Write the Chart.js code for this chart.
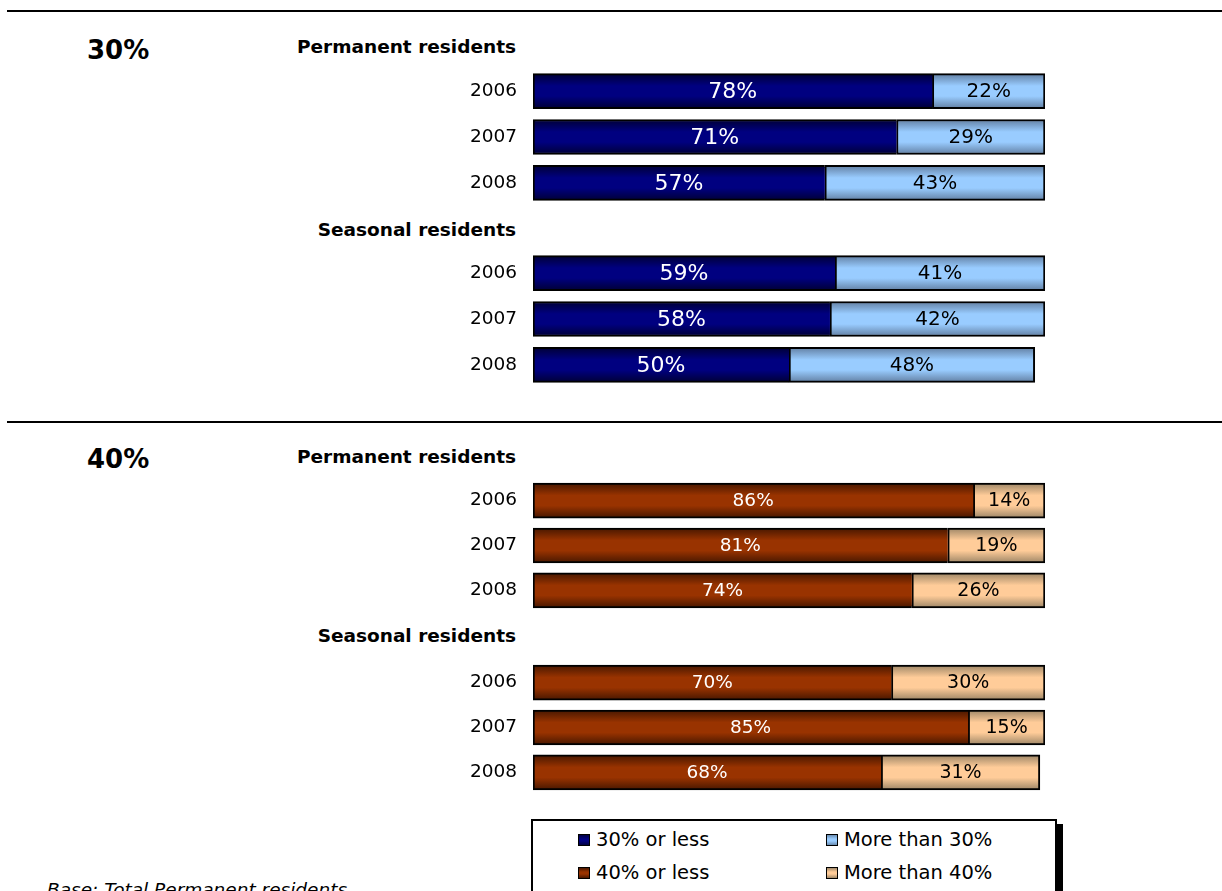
<!DOCTYPE html>
<html>
<head>
<meta charset="utf-8">
<script src="https://cdn.jsdelivr.net/npm/chart.js@4.4.0/dist/chart.umd.min.js"></script>
<style>
  html, body { margin:0; padding:0; background:#fff; }
  body { width:1222px; height:891px; position:relative; overflow:hidden;
         font-family: "DejaVu Sans", sans-serif; color:#000; }
  .abs { position:absolute; white-space:nowrap; line-height:24px; }
  .rule { position:absolute; left:7px; width:1215px; height:2px; background:#000; }
  .big { font-weight:bold; font-size:26px; line-height:30px; }
  .hdr { font-weight:bold; font-size:18.5px; left:0; width:516px; text-align:right; }
  canvas { display:block; }
  .cw { position:absolute; left:400px; width:660px; }
  #legend { position:absolute; left:531px; top:819px; width:522px; height:80px;
            border:2px solid #000; background:#fff; box-shadow:6px 5px 0 #000; }
  .li { position:absolute; font-size:19.5px; line-height:22px; }
  .mk { display:inline-block; width:10px; height:10px; border:1px solid #000; margin-right:6px; vertical-align:0px; }
  #foot { left:47px; top:880px; font-style:italic; font-size:18.5px; line-height:20px; }
</style>
</head>
<body>
<div class="rule" style="top:10px"></div>
<div class="rule" style="top:421px"></div>

<div class="abs big" style="left:87px; top:35px;">30%</div>
<div class="abs hdr" style="top:35px;">Permanent residents</div>
<div class="abs hdr" style="top:218px;">Seasonal residents</div>
<div class="cw" style="top:68px; height:138px;"><canvas id="c1"></canvas></div>
<div class="cw" style="top:250px; height:138px;"><canvas id="c2"></canvas></div>

<div class="abs big" style="left:87px; top:444px;">40%</div>
<div class="abs hdr" style="top:445px;">Permanent residents</div>
<div class="abs hdr" style="top:624px;">Seasonal residents</div>
<div class="cw" style="top:478px; height:135px;"><canvas id="c3"></canvas></div>
<div class="cw" style="top:660px; height:135px;"><canvas id="c4"></canvas></div>

<div id="legend">
  <div class="li" style="left:45px; top:8px;"><span class="mk" style="background:linear-gradient(#000040,#000080 40%,#000080 60%,#000040)"></span>30% or less</div>
  <div class="li" style="left:293px; top:8px;"><span class="mk" style="background:linear-gradient(#6a8cb0,#99ccff 40%,#99ccff 60%,#6a8cb0)"></span>More than 30%</div>
  <div class="li" style="left:45px; top:41px;"><span class="mk" style="background:linear-gradient(#4a1800,#993300 40%,#993300 60%,#4a1800)"></span>40% or less</div>
  <div class="li" style="left:293px; top:41px;"><span class="mk" style="background:linear-gradient(#a08868,#ffcc99 40%,#ffcc99 60%,#a08868)"></span>More than 40%</div>
</div>
<div class="abs" id="foot">Base: Total Permanent residents</div>

<script>
// ---- data ----
const years = ["2006", "2007", "2008"];
const perm30Low  = [78, 71, 57];
const perm30High = [22, 29, 43];
const seas30Low  = [59, 58, 50];
const seas30High = [41, 42, 48];
const perm40Low  = [86, 81, 74];
const perm40High = [14, 19, 26];
const seas40Low  = [70, 85, 68];
const seas40High = [30, 15, 31];

const FONT = '"DejaVu Sans", sans-serif';

const palettes = {
  dark30:  {edge:'#000038', mid:'#000080', text:'#ffffff'},
  light30: {edge:'#6482a6', mid:'#99ccff', text:'#000000'},
  dark40:  {edge:'#4a1800', mid:'#993300', text:'#ffffff'},
  light40: {edge:'#a08868', mid:'#ffcc99', text:'#000000'}
};

function gradFill(pal) {
  return function(ctx) {
    const chart = ctx.chart;
    if (!chart.chartArea || ctx.dataIndex === undefined) return pal.mid;
    const y = chart.scales.y.getPixelForValue(ctx.dataIndex);
    const g = chart.ctx.createLinearGradient(0, y - 17, 0, y + 17);
    g.addColorStop(0, pal.edge);
    g.addColorStop(0.35, pal.mid);
    g.addColorStop(0.65, pal.mid);
    g.addColorStop(1, pal.edge);
    return g;
  };
}

const valueLabels = {
  id: 'valueLabels',
  afterDatasetsDraw(chart) {
    const c = chart.ctx;
    chart.data.datasets.forEach((ds, di) => {
      const meta = chart.getDatasetMeta(di);
      meta.data.forEach((el, i) => {
        const v = ds.data[i];
        const x = (el.x + el.base) / 2;
        c.save();
        c.fillStyle = ds.labelColor;
        c.font = ds.labelSize + 'px ' + FONT;
        c.textAlign = 'center';
        c.textBaseline = 'middle';
        c.fillText(v + '%', x, el.y + 1);
        c.restore();
      });
    });
  }
};

function makeChart(id, low, high, darkPal, lightPal, darkSize, lightSize) {
  new Chart(document.getElementById(id), {
    type: 'bar',
    data: {
      labels: years,
      datasets: [
        { data: low, backgroundColor: gradFill(darkPal), borderColor: '#000',
          borderWidth: {top:2, bottom:2, left:2, right:0}, borderSkipped: false,
          labelColor: darkPal.text, labelSize: darkSize },
        { data: high, backgroundColor: gradFill(lightPal), borderColor: '#000',
          borderWidth: {top:2, bottom:2, left:2, right:2}, borderSkipped: false,
          labelColor: lightPal.text, labelSize: lightSize }
      ]
    },
    options: {
      indexAxis: 'y',
      responsive: true,
      maintainAspectRatio: false,
      animation: false,
      events: [],
      datasets: { bar: { barThickness: 35 } },
      layout: { padding: { left: 0, right: 15, top: 0, bottom: 0 } },
      plugins: { legend: { display: false }, tooltip: { enabled: false } },
      scales: {
        x: { stacked: true, min: 0, max: 100, display: false },
        y: {
          stacked: true,
          grid: { display: false, drawTicks: true, tickLength: 16 },
          border: { display: false },
          ticks: { color: '#000', padding: 0, font: { family: FONT, size: 18.5, lineHeight: 0.01 } },
          afterFit(scale) { scale.width = 133; }
        }
      }
    },
    plugins: [valueLabels]
  });
}

makeChart('c1', perm30Low, perm30High, palettes.dark30, palettes.light30, 22, 20);
makeChart('c2', seas30Low, seas30High, palettes.dark30, palettes.light30, 22, 20);
makeChart('c3', perm40Low, perm40High, palettes.dark40, palettes.light40, 18.5, 19);
makeChart('c4', seas40Low, seas40High, palettes.dark40, palettes.light40, 18.5, 19);
</script>
</body>
</html>
